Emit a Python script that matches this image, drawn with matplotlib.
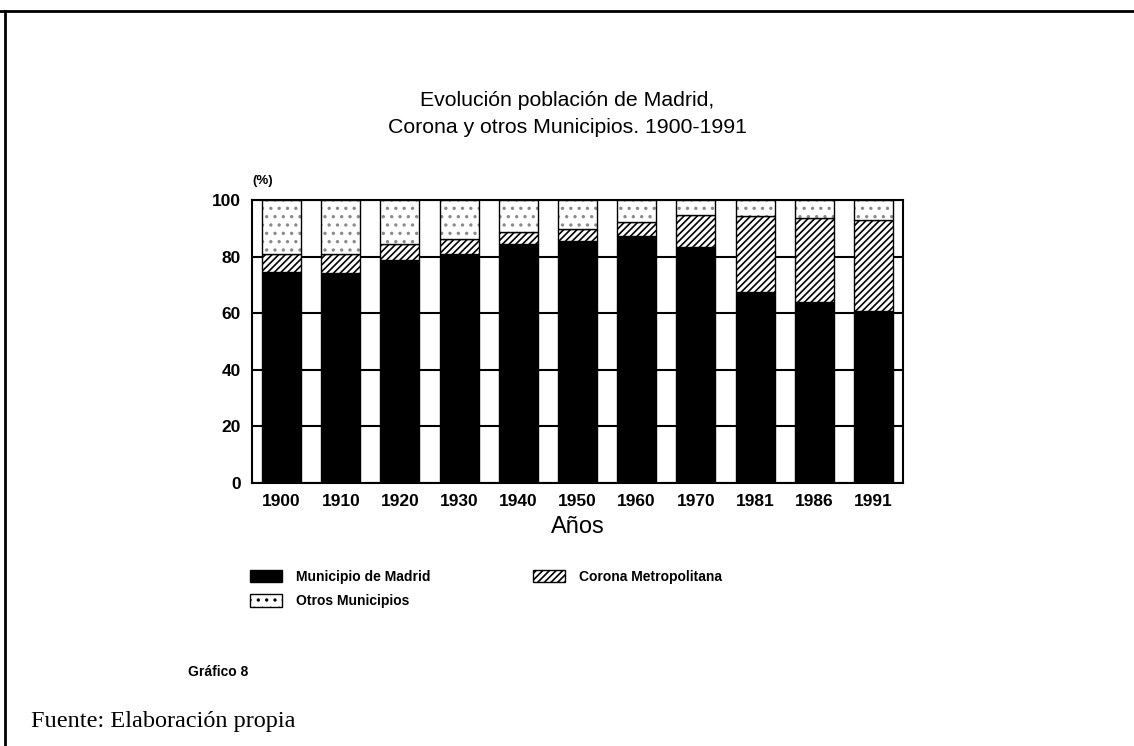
import numpy as np
import matplotlib
matplotlib.use('Agg')
import matplotlib.pyplot as plt
from matplotlib.patches import Patch
from matplotlib.lines import Line2D

years = ['1900', '1910', '1920', '1930', '1940', '1950', '1960', '1970', '1981', '1986', '1991']
madrid = [74.7, 74.1, 78.8, 80.8, 84.5, 85.5, 87.3, 83.3, 67.4, 64.0, 60.9]
corona = [6.2, 6.7, 5.5, 5.3, 4.3, 4.3, 4.8, 11.4, 26.9, 29.7, 32.2]
otros = [100 - m - c for m, c in zip(madrid, corona)]
yticks = [0, 20, 40, 60, 80, 100]

plt.rcParams['font.family'] = ['Liberation Sans', 'DejaVu Sans']
plt.rcParams['hatch.linewidth'] = 1.2

fig = plt.figure(figsize=(11.34, 7.46), dpi=100)
ax = fig.add_axes([0.2222, 0.3525, 0.5741, 0.3794])

ind = np.arange(len(years))
width = 0.66
bottom2 = [m + c for m, c in zip(madrid, corona)]
ax.set_axisbelow(True)
ax.bar(ind, madrid, width, color='black', edgecolor='black', linewidth=1)
ax.bar(ind, corona, width, bottom=madrid, color='white', edgecolor='black',
       hatch='/////', linewidth=1)
# dotted fill in grey, then a black outline on top
ax.bar(ind, otros, width, bottom=bottom2, color='white', edgecolor='#8a8a8a',
       hatch='..', linewidth=0)
ax.bar(ind, otros, width, bottom=bottom2, fill=False, edgecolor='black', linewidth=1)

ax.set_xlim(-0.5, len(years) - 0.5)
ax.set_ylim(0, 100)
ax.set_yticks(yticks)
ax.set_xticks(ind)
ax.set_xticklabels(years)
ax.yaxis.grid(True, color='black', linewidth=1.5)
ax.tick_params(axis='both', length=0, labelsize=12.5, pad=8)
for lab in ax.get_xticklabels() + ax.get_yticklabels():
    lab.set_fontweight('bold')
for sp in ax.spines.values():
    sp.set_linewidth(1.5)

ax.text(0.0, 1.067, '(%)', transform=ax.transAxes, fontsize=9.5, fontweight='bold',
        ha='left', va='center')
ax.set_xlabel('Años', fontsize=17, labelpad=5)

fig.text(0.5, 0.847, 'Evolución población de Madrid,\nCorona y otros Municipios. 1900-1991',
         ha='center', va='center', fontsize=15.3, linespacing=1.5)

handles = [Patch(facecolor='black', edgecolor='black'),
           Patch(facecolor='white', edgecolor='black', hatch='..'),
           Patch(facecolor='white', edgecolor='black', hatch='/////')]
labels = ['Municipio de Madrid', 'Otros Municipios', 'Corona Metropolitana']
leg = fig.legend(handles, labels, ncol=2, loc='upper left', bbox_to_anchor=(0.2205, 0.236),
                 frameon=False, prop={'size': 10, 'weight': 'bold'},
                 borderpad=0, borderaxespad=0,
                 handlelength=2.3, handleheight=1.0, columnspacing=7.4, labelspacing=0.75,
                 handletextpad=1.0)

fig.text(0.166, 0.099, 'Gráfico 8', fontsize=10, fontweight='bold', ha='left', va='center')
fig.text(0.027, 0.033, 'Fuente: Elaboración propia', fontsize=17.5, family='Liberation Serif',
         ha='left', va='center')

# page frame: top and left lines
fig.add_artist(Line2D([0.0, 1.0], [0.985, 0.985], transform=fig.transFigure, color='black', lw=2))
fig.add_artist(Line2D([0.004, 0.004], [0.0, 0.985], transform=fig.transFigure, color='black', lw=2))

fig.savefig('out.png', dpi=100)
